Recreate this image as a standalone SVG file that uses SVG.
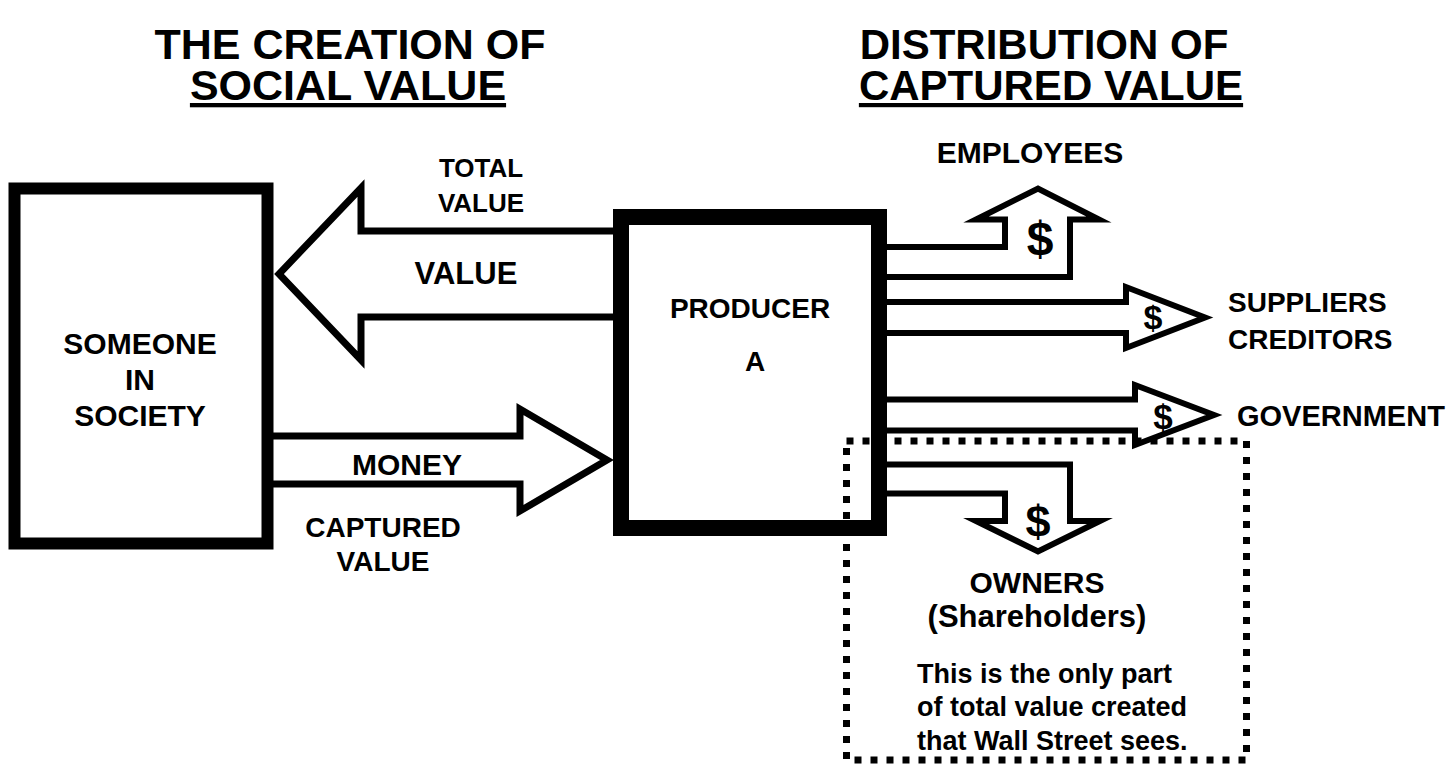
<svg xmlns="http://www.w3.org/2000/svg" width="1454" height="765" viewBox="0 0 1454 765">
<style>
text{font-family:"Liberation Sans",Arial,sans-serif;font-weight:bold;fill:#000}
.title{font-size:43px;text-anchor:middle}
.title2{font-size:42px;text-anchor:middle}
.ul{text-decoration:underline}
.lbl{font-size:28px;text-anchor:middle}
.arrow{fill:#fff;stroke:#000;stroke-width:7;stroke-linejoin:miter;stroke-miterlimit:10}
.arrow2{fill:#fff;stroke:#000;stroke-width:6;stroke-linejoin:miter;stroke-miterlimit:10}
.box{fill:none;stroke:#000}
.dot{fill:none;stroke:#000;stroke-width:7;stroke-dasharray:7 9}
.usd{text-anchor:middle}
</style>
<rect width="1454" height="765" fill="#fff"/>
<g id="titles">
<text class="title" x="350" y="59">THE CREATION OF</text>
<text class="title ul" x="348" y="100">SOCIAL VALUE</text>
<text class="title2" x="1044" y="59">DISTRIBUTION OF</text>
<text class="title2 ul" x="1051" y="100">CAPTURED VALUE</text>
</g>
<g id="connectors">
<path id="value-arrow" class="arrow" d="M621 231 L361 231 L361 188 L279 274 L361 360 L361 317 L621 317"/>
<path id="money-arrow" class="arrow" d="M267 436 L520 436 L520 409 L607 460 L520 511 L520 484 L267 484"/>
<path id="employees-arrow" class="arrow2" d="M879 247 L1005 247 L1005 219.5 L976 219.5 L1038 188.5 L1099 219.5 L1070 219.5 L1070 277 L879 277"/>
<path id="suppliers-arrow" class="arrow2" d="M879 302 L1126 302 L1126 287 L1205 317.5 L1126 348 L1126 333 L879 333"/>
<path id="government-arrow" class="arrow2" d="M879 399.5 L1135 399.5 L1135 385 L1214 415 L1135 445 L1135 430.5 L879 430.5"/>
<path id="owners-arrow" class="arrow2" d="M879 464.5 L1070 464.5 L1070 521 L1100 521 L1038 551.5 L976 521 L1005 521 L1005 493.5 L879 493.5"/>
<text class="usd" x="1040" y="255" font-size="48">$</text>
<text class="usd" x="1153" y="329" font-size="34">$</text>
<text class="usd" x="1163" y="429" font-size="35">$</text>
<text class="usd" x="1038" y="537" font-size="45">$</text>
<text x="481" y="177" font-size="26" text-anchor="middle">TOTAL</text>
<text x="481" y="212" font-size="26" text-anchor="middle">VALUE</text>
<text x="466" y="284" font-size="31" text-anchor="middle">VALUE</text>
<text x="407" y="475" font-size="30" text-anchor="middle">MONEY</text>
<text class="lbl" x="383" y="537">CAPTURED</text>
<text class="lbl" x="383" y="571">VALUE</text>
</g>
<g id="wallstreet-box">
<rect class="dot" x="846.5" y="441" width="400" height="319"/>
</g>
<g id="someone">
<rect class="box" x="14.5" y="188.5" width="253" height="355" stroke-width="12"/>
<text x="140" y="354" font-size="30" text-anchor="middle">SOMEONE</text>
<text x="140" y="390" font-size="30" text-anchor="middle">IN</text>
<text x="140" y="426" font-size="30" text-anchor="middle">SOCIETY</text>
</g>
<g id="producer">
<rect class="box" x="621" y="217" width="258" height="311" stroke-width="16"/>
<text class="lbl" x="750" y="318">PRODUCER</text>
<text class="lbl" x="755" y="371">A</text>
</g>
<g id="employees">
<text x="1030" y="163" font-size="30" text-anchor="middle">EMPLOYEES</text>
</g>
<g id="suppliers">
<text x="1228" y="312" font-size="28">SUPPLIERS</text>
<text x="1228" y="349" font-size="28">CREDITORS</text>
</g>
<g id="government">
<text x="1237" y="426" font-size="29">GOVERNMENT</text>
</g>
<g id="owners">
<text x="1037" y="593" font-size="30" text-anchor="middle">OWNERS</text>
<text x="1037" y="627" font-size="31" text-anchor="middle">(Shareholders)</text>
<text x="917" y="683" font-size="27">This is the only part</text>
<text x="917" y="716" font-size="27">of total value created</text>
<text x="917" y="750" font-size="27">that Wall Street sees.</text>
</g>
</svg>
